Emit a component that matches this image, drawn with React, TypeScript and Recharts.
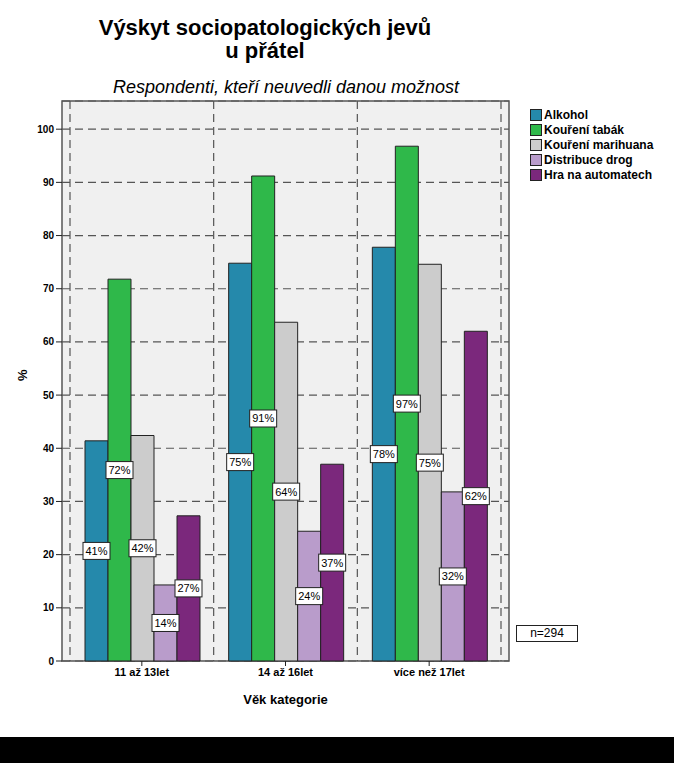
import React from 'react'
import {
  BarChart,
  Bar,
  XAxis,
  YAxis,
  CartesianGrid,
  LabelList,
  usePlotArea,
} from 'recharts'

const categories = ['11 až 13let', '14 až 16let', 'více než 17let']
const alkohol = [41.4, 74.8, 77.8]
const tabak = [71.8, 91.2, 96.8]
const marihuana = [42.4, 63.7, 74.6]
const distribuce = [14.3, 24.4, 31.8]
const automaty = [27.3, 37.0, 62.0]
const yTicks = [0, 10, 20, 30, 40, 50, 60, 70, 80, 90, 100]

const seriesDefs = [
  { key: 'alkohol', name: 'Alkohol', color: '#2589ab' },
  { key: 'tabak', name: 'Kouření tabák', color: '#2fb84a' },
  { key: 'marihuana', name: 'Kouření marihuana', color: '#cccccc' },
  { key: 'distribuce', name: 'Distribuce drog', color: '#b99ccb' },
  { key: 'automaty', name: 'Hra na automatech', color: '#7b287c' },
]

const data = categories.map((cat, i) => ({
  cat,
  alkohol: alkohol[i],
  tabak: tabak[i],
  marihuana: marihuana[i],
  distribuce: distribuce[i],
  automaty: automaty[i],
}))

const FONT = 'Arial, "Liberation Sans", sans-serif'
const PAD = 8

function PctLabel(props: any) {
  const { x, y, width, height, value } = props
  if (value == null) return null
  const cx = x + width / 2
  const cy = y + height / 2
  const text = `${Math.round(value)}%`
  const w = 27
  const h = 17
  return (
    <g>
      <rect x={cx - w / 2} y={cy - h / 2} width={w} height={h} fill="#fff" stroke="#222" strokeWidth={1} />
      <text x={cx} y={cy + 4} textAnchor="middle" fontSize={11} fontFamily={FONT} fill="#000">
        {text}
      </text>
    </g>
  )
}

function PlotFrame() {
  const area = usePlotArea()
  if (!area) return null
  return (
    <rect
      x={area.x}
      y={area.y}
      width={area.width}
      height={area.height}
      fill="none"
      stroke="#555"
      strokeWidth={1.5}
    />
  )
}

function LegendBox() {
  return (
    <div
      style={{
        position: 'absolute',
        left: 530,
        top: 107,
        fontFamily: FONT,
        fontSize: 12,
        fontWeight: 'bold',
      }}
    >
      {seriesDefs.map((s) => (
        <div key={s.key} style={{ display: 'flex', alignItems: 'center', height: 15 }}>
          <span
            style={{
              display: 'inline-block',
              width: 10,
              height: 10,
              background: s.color,
              border: '1px solid #222',
              marginRight: 2,
            }}
          />
          {s.name}
        </div>
      ))}
    </div>
  )
}

export default function App() {
  return (
    <div style={{ position: 'absolute', left: 0, top: 0, width: 674, height: 763, background: '#fff' }}>
      <div
        style={{
          position: 'absolute',
          left: 0,
          width: 530,
          top: 16,
          textAlign: 'center',
          fontFamily: FONT,
          fontWeight: 'bold',
          fontSize: 22,
          lineHeight: '23px',
        }}
      >
        Výskyt sociopatologických jevů
        <br />u přátel
      </div>
      <div
        style={{
          position: 'absolute',
          left: 0,
          width: 572,
          top: 77,
          textAlign: 'center',
          fontFamily: FONT,
          fontStyle: 'italic',
          fontSize: 18,
        }}
      >
        Respondenti, kteří neuvedli danou možnost
      </div>
      <BarChart
        width={674}
        height={737}
        data={data}
        margin={{ top: 101, right: 165, bottom: 56, left: 32 }}
        barCategoryGap={15}
        barGap={0}
      >
        <CartesianGrid
          fill="#f0f0f0"
          stroke="#555"
          strokeDasharray="8 5"
          strokeWidth={1.2}
          verticalCoordinatesGenerator={({ offset }: any) => {
            const inner = offset.width - 2 * PAD
            const step = inner / categories.length
            return Array.from({ length: categories.length + 1 }, (_, i) => offset.left + PAD + i * step)
          }}
        />
        <XAxis
          dataKey="cat"
          height={20}
          padding={{ left: PAD, right: PAD }}
          axisLine={false}
          tickLine={{ stroke: '#222' }}
          tickSize={5}
          tick={{ fontFamily: FONT, fontSize: 11, fontWeight: 'bold', fill: '#000' }}
          label={{
            value: 'Věk kategorie',
            position: 'insideBottom',
            offset: -23,
            style: { fontFamily: FONT, fontSize: 13, fontWeight: 'bold', fill: '#000' },
          }}
        />
        <YAxis
          width={30}
          domain={[0, 105.3]}
          ticks={yTicks}
          axisLine={false}
          tickLine={{ stroke: '#222' }}
          tickSize={6}
          tick={{ fontFamily: FONT, fontSize: 10, fontWeight: 'bold', fill: '#000' }}
          label={{
            value: '%',
            angle: -90,
            position: 'insideLeft',
            offset: -10,
            style: { fontFamily: FONT, fontSize: 13, fontWeight: 'bold', fill: '#000' },
          }}
        />
        {seriesDefs.map((s) => (
          <Bar
            key={s.key}
            dataKey={s.key}
            name={s.name}
            fill={s.color}
            stroke="#222"
            strokeWidth={1}
            isAnimationActive={false}
          >
            <LabelList dataKey={s.key} content={<PctLabel />} />
          </Bar>
        ))}
        <PlotFrame />
      </BarChart>
      <LegendBox />
      <div
        style={{
          position: 'absolute',
          left: 516,
          top: 625,
          width: 60,
          height: 15,
          border: '1px solid #222',
          background: '#fff',
          fontFamily: FONT,
          fontSize: 12,
          lineHeight: '15px',
          textAlign: 'center',
        }}
      >
        n=294
      </div>
      <div style={{ position: 'absolute', left: 0, top: 737, width: 674, height: 26, background: '#000' }} />
    </div>
  )
}
